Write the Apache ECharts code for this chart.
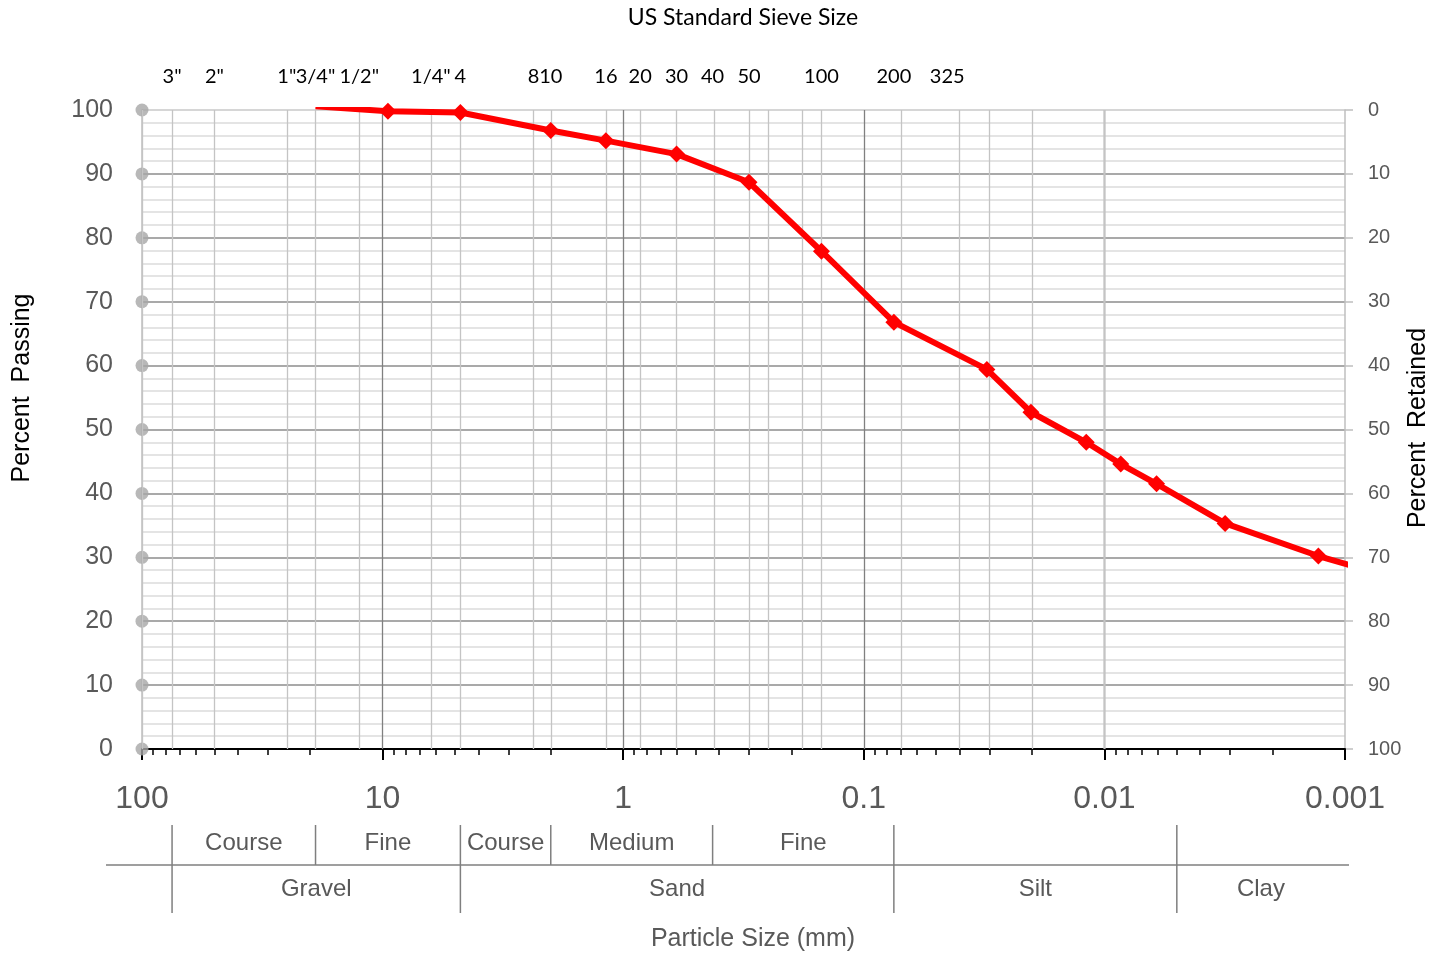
<!DOCTYPE html>
<html>
<head>
<meta charset="utf-8">
<title>Grain Size Distribution</title>
<script src="https://cdn.jsdelivr.net/npm/echarts@6/dist/echarts.min.js"></script>
<style>
    html, body { margin: 0; padding: 0; background: #fff; }
    #main { width: 1429px; height: 956px; }
</style>
</head>
<body>
<div id="main"></div>
<script>
// particle size (mm) and percent passing
var sizes = [19, 9.5, 4.75, 2.0, 1.18, 0.6, 0.3, 0.15, 0.075, 0.0308, 0.0202, 0.0119, 0.00855, 0.00607, 0.00315, 0.00129, 0.00079];
var passing = [100.6, 99.8, 99.6, 96.8, 95.2, 93.1, 88.7, 77.9, 66.8, 59.4, 52.7, 48.0, 44.6, 41.5, 35.3, 30.2, 27.9];

// US standard sieves along the top
var sieveLabels = ['3"', '2"', '1"', '3/4"', '1/2"', '1/4"', '4', '8', '10', '16', '20', '30', '40', '50', '100', '200', '325'];
var sieveSizes = [75, 50, 25, 19, 12.5, 6.3, 4.75, 2.36, 2.0, 1.18, 0.85, 0.6, 0.425, 0.3, 0.15, 0.075, 0.045];

// vertical grid lines (mm)
var lightLines = [100, 75, 50, 25, 19, 12.5, 6.3, 4.75, 2.36, 2.0, 1.18, 0.85, 0.6, 0.425, 0.3, 0.25, 0.18, 0.15,
    0.075, 0.045, 0.03, 0.02, 0.01, 0.009, 0.008, 0.007, 0.006, 0.005, 0.004, 0.003, 0.002];
var darkLines = [10, 1, 0.1];

var passTicks = [0, 10, 20, 30, 40, 50, 60, 70, 80, 90, 100];

// soil classification table under the axis
var bounds = [75, 19, 4.75, 2.0, 0.425, 0.075, 0.005];
var boundMain = [1, 0, 1, 0, 0, 1, 1];
var subNames = ['Course', 'Fine', 'Course', 'Medium', 'Fine'];
var subFrom = [75, 19, 4.75, 2.0, 0.425];
var subTo = [19, 4.75, 2.0, 0.425, 0.075];
var mainNames = ['Gravel', 'Sand', 'Silt', 'Clay'];
var mainFrom = [75, 4.75, 0.075, 0.005];
var mainTo = [4.75, 0.075, 0.005, 0.001];

var sans = 'Liberation Sans, Arial, sans-serif';
var calib = 'Lato, Liberation Sans, sans-serif';
var tableGray = '#595959';

function txt(x, y, text, size, color, font) {
    return {
        type: 'text', x: x, y: y,
        style: {
            text: text, fontSize: size, fontFamily: font, fill: color,
            align: 'center', verticalAlign: 'middle', textAlign: 'center', textVerticalAlign: 'middle'
        }
    };
}

var chart = echarts.init(document.getElementById('main'));

var vLines = lightLines.map(function (v) {
    return { xAxis: v, lineStyle: { color: '#c4c4c4', width: 1.3, type: 'solid' } };
}).concat(darkLines.map(function (v) {
    return { xAxis: v, lineStyle: { color: '#808080', width: 1.3, type: 'solid' } };
}));

var majorColors = passTicks.map(function (v) { return v === 100 ? '#c8c8c8' : '#8c8c8c'; });

chart.setOption({
    animation: false,
    backgroundColor: '#fff',
    grid: { left: 142, right: 84, top: 110, bottom: 207 },
    xAxis: {
        type: 'log', logBase: 10, min: 0.001, max: 100, inverse: true, z: 3,
        axisLine: { show: true, onZero: false, lineStyle: { color: '#000', width: 2 } },
        axisTick: { show: true, length: 11, lineStyle: { color: '#000', width: 2 } },
        minorTick: { show: true, splitNumber: 9, length: 6, lineStyle: { color: '#000', width: 1.5 } },
        axisLabel: {
            fontSize: 32, color: '#595959', margin: 34, fontFamily: sans,
            formatter: function (v) { return String(+(+v).toPrecision(3)); }
        },
        splitLine: { show: false },
        minorSplitLine: { show: false }
    },
    yAxis: [{
        type: 'value', min: 0, max: 100, interval: 10,
        axisLine: { show: true, lineStyle: { color: '#bfbfbf', width: 1.5 } },
        axisTick: { show: false },
        axisLabel: { fontSize: 25, color: '#595959', margin: 29, fontFamily: sans },
        splitLine: { show: true, lineStyle: { color: majorColors, width: 1.5 } },
        minorTick: { show: false, splitNumber: 5 },
        minorSplitLine: { show: true, lineStyle: { color: '#dcdcdc', width: 1.5 } }
    }, {
        type: 'value', position: 'right', min: 0, max: 100, interval: 10, inverse: true,
        axisLine: { show: true, lineStyle: { color: '#bfbfbf', width: 1.5 } },
        axisTick: { show: true, length: 8, lineStyle: { color: '#bfbfbf', width: 1.5 } },
        axisLabel: { fontSize: 20, color: '#595959', margin: 23, fontFamily: sans },
        splitLine: { show: false }
    }],
    graphic: [
        txt(743, 18, 'US Standard Sieve Size', 23, '#000', calib),
        txt(753, 939, 'Particle Size (mm)', 25, '#595959', sans),
        Object.assign(txt(22, 388, 'Percent  Passing', 25, '#000', sans), { rotation: Math.PI / 2 }),
        Object.assign(txt(1418, 428, 'Percent  Retained', 25, '#000', sans), { rotation: Math.PI / 2 })
    ],
    series: [
        {
            // vertical grid
            type: 'line', data: [], z: 1, silent: true,
            markLine: {
                silent: true, symbol: ['none', 'none'], label: { show: false },
                emphasis: { disabled: true }, animation: false,
                data: vLines
            }
        },
        {
            // dots on the left axis
            type: 'scatter', z: 4, silent: true, clip: false,
            symbolSize: 13, itemStyle: { color: '#a6a6a6' },
            data: passTicks.map(function (v) { return [100, v]; })
        },
        {
            type: 'line', z: 5, clip: true, silent: true,
            symbol: 'diamond', symbolSize: 17,
            lineStyle: { color: '#ff0000', width: 6 },
            itemStyle: { color: '#ff0000' },
            data: sizes.map(function (s, i) {
                var d = { value: [s, passing[i]] };
                if (i === 0) d.symbol = 'none';
                return d;
            })
        },
        {
            // sieve numbers above the plot
            type: 'custom', silent: true, clip: false,
            data: sieveSizes.map(function (s, i) { return [s, 100, i]; }),
            renderItem: function (params, api) {
                var p = api.coord([api.value(0), api.value(1)]);
                return txt(p[0], p[1] - 33, sieveLabels[api.value(2)], 20, '#000', calib);
            }
        },
        {
            // classification dividers
            type: 'custom', silent: true, clip: false,
            data: bounds.map(function (b, i) { return [b, 0, boundMain[i]]; }),
            renderItem: function (params, api) {
                var p = api.coord([api.value(0), 0]);
                var main = api.value(2);
                return {
                    type: 'line',
                    shape: { x1: p[0], y1: p[1] + (main ? 76 : 76), x2: p[0], y2: p[1] + (main ? 164 : 116) },
                    style: { stroke: '#7f7f7f', lineWidth: 1.5 }
                };
            }
        },
        {
            // table horizontal rule
            type: 'custom', silent: true, clip: false,
            data: [[100, 0], [0.001, 0]],
            renderItem: function (params, api) {
                if (params.dataIndex !== 0) return null;
                var a = api.coord([100, 0]);
                var b = api.coord([0.001, 0]);
                return {
                    type: 'line',
                    shape: { x1: a[0] - 36, y1: a[1] + 116, x2: b[0] + 4, y2: b[1] + 116 },
                    style: { stroke: '#7f7f7f', lineWidth: 1.5 }
                };
            }
        },
        {
            // subclass names
            type: 'custom', silent: true, clip: false,
            data: subNames.map(function (n, i) { return [Math.sqrt(subFrom[i] * subTo[i]), 0, i]; }),
            renderItem: function (params, api) {
                var p = api.coord([api.value(0), 0]);
                return txt(p[0], p[1] + 94, subNames[api.value(2)], 24, tableGray, sans);
            }
        },
        {
            // main class names
            type: 'custom', silent: true, clip: false,
            data: mainNames.map(function (n, i) { return [Math.sqrt(mainFrom[i] * mainTo[i]), 0, i]; }),
            renderItem: function (params, api) {
                var p = api.coord([api.value(0), 0]);
                return txt(p[0], p[1] + 140, mainNames[api.value(2)], 24, tableGray, sans);
            }
        }
    ]
});
</script>
</body>
</html>
